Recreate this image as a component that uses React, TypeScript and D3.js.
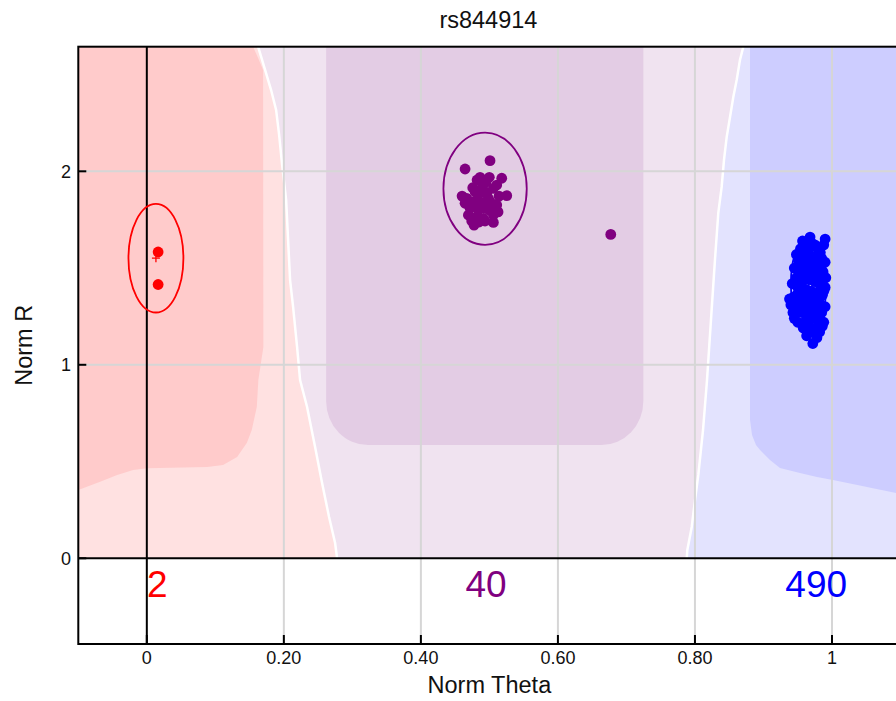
import React from "react";
import * as d3 from "d3";

type Pt = [number, number];

const W = 896;
const H = 701;
const R_MIN = -0.443;
const R_MAX = 2.644;
const T_MIN = -0.1;
const T_MAX = 1.1;

const title = "rs844914";
const xTicks = [0, 0.2, 0.4, 0.6, 0.8, 1];
const xTickLabels = ["0", "0.20", "0.40", "0.60", "0.80", "1"];
const yTicks = [0, 1, 2];

// AA / AB / BB calls
const clusterColors = ["#ff0000", "#800080", "#0000ff"];
const clusterCounts = [2, 40, 490];
const countLabelTheta = [0.0152, 0.495, 0.977];

// cluster centre + radii (theta, R, rTheta, rR)
const clusterCentres: Pt[] = [[0.0133, 1.551], [0.4937, 1.91], [0.966, 1.42]];
const clusterRadii: Pt[] = [[0.0401, 0.2806], [0.0608, 0.29], [0.026, 0.24]];

const redPoints: Pt[] = [[0.0165, 1.583], [0.0165, 1.415]];

const purplePoints: Pt[] = [
  [0.4645, 2.012], [0.5009, 2.055], [0.4864, 1.969], [0.4999, 1.969], [0.518, 1.964],
  [0.5253, 1.874], [0.4757, 1.915], [0.4912, 1.929], [0.5058, 1.912], [0.4961, 1.886],
  [0.4839, 1.878], [0.4669, 1.86], [0.4645, 1.835], [0.4766, 1.843], [0.4888, 1.835],
  [0.5009, 1.843], [0.5107, 1.826], [0.4718, 1.809], [0.4839, 1.8], [0.4936, 1.809],
  [0.4693, 1.774], [0.4815, 1.765], [0.4912, 1.757], [0.5058, 1.774], [0.4742, 1.743],
  [0.4936, 1.743], [0.5058, 1.736], [0.4999, 1.8], [0.4888, 1.912], [0.4791, 1.895],
  [0.5107, 1.929], [0.4985, 1.86], [0.5141, 1.872], [0.482, 1.955], [0.4951, 1.945],
  [0.4601, 1.872], [0.5126, 1.79], [0.4776, 1.722], [0.4849, 1.738], [0.6771, 1.674],
];

const bluePoints: Pt[] = [
  [0.968, 1.66], [0.99, 1.65], [0.961, 1.62], [0.951, 1.54], [0.948, 1.41], [0.94, 1.31],
  [0.945, 1.24], [0.965, 1.21], [0.968, 1.17], [0.972, 1.11], [0.988, 1.22], [0.991, 1.45],
  [0.985, 1.55], [0.975, 1.62], [0.958, 1.58], [0.966, 1.57], [0.975, 1.56], [0.98, 1.52],
  [0.957, 1.52], [0.963, 1.5], [0.97, 1.49], [0.978, 1.47], [0.952, 1.47], [0.96, 1.45],
  [0.968, 1.44], [0.975, 1.43], [0.983, 1.41], [0.955, 1.42], [0.962, 1.39], [0.97, 1.38],
  [0.978, 1.37], [0.986, 1.36], [0.95, 1.37], [0.958, 1.35], [0.966, 1.34], [0.974, 1.33],
  [0.982, 1.32], [0.953, 1.32], [0.961, 1.3], [0.969, 1.29], [0.977, 1.28], [0.985, 1.27],
  [0.956, 1.27], [0.964, 1.25], [0.972, 1.24], [0.98, 1.23], [0.96, 1.22], [0.975, 1.19],
  [0.965, 1.46], [0.972, 1.53], [0.98, 1.6], [0.959, 1.6], [0.948, 1.45], [0.944, 1.35],
  [0.946, 1.29], [0.99, 1.3], [0.988, 1.38], [0.987, 1.48], [0.983, 1.58], [0.97, 1.61],
  [0.962, 1.54], [0.955, 1.56], [0.95, 1.5], [0.943, 1.27], [0.963, 1.15], [0.978, 1.14],
  [0.954, 1.6], [0.988, 1.62], [0.957, 1.64], [0.945, 1.5], [0.942, 1.42], [0.938, 1.34],
  [0.95, 1.22], [0.958, 1.19], [0.982, 1.17], [0.986, 1.2], [0.99, 1.4], [0.99, 1.53],
  [0.948, 1.57], [0.953, 1.44], [0.957, 1.38], [0.967, 1.26], [0.979, 1.34], [0.984, 1.45],
];

// decision region borders, top to bottom
const leftBorder: Pt[] = [
  [0.1624, 2.644], [0.1726, 2.524], [0.1814, 2.42], [0.1887, 2.317], [0.1931, 2.188],
  [0.1975, 2.033], [0.2033, 1.852], [0.2091, 1.438], [0.2135, 1.299], [0.2193, 1.092],
  [0.2237, 0.921], [0.2339, 0.782], [0.2456, 0.575], [0.2558, 0.389], [0.266, 0.213],
  [0.2748, 0.079], [0.2777, 0],
];
const rightBorder: Pt[] = [
  [0.8706, 2.644], [0.8657, 2.575], [0.8609, 2.472], [0.856, 2.384], [0.8512, 2.281],
  [0.8463, 2.177], [0.8424, 2.059], [0.839, 1.919], [0.8341, 1.785], [0.8292, 1.542],
  [0.8234, 1.232], [0.8176, 0.921], [0.8118, 0.663], [0.8049, 0.431], [0.8001, 0.302],
  [0.7953, 0.162], [0.7889, 0.043], [0.788, 0],
];
const redCore: Pt[] = [
  [-0.1, 2.644], [0.1551, 2.644], [0.1624, 2.586], [0.1697, 2.524], [0.1701, 1.092],
  [0.1628, 0.921], [0.1605, 0.782], [0.1532, 0.663], [0.1459, 0.596], [0.1318, 0.524],
  [0.1113, 0.482], [0.088, 0.472], [0.0004, 0.465], [-0.02, 0.456], [-0.0433, 0.431],
  [-0.0681, 0.396], [-0.1, 0.353],
];
const purpleCore = { t0: 0.2617, t1: 0.7247, r0: 0.585 };
const blueCore: Pt[] = [
  [0.8804, 2.644], [0.8804, 0.715], [0.8833, 0.637], [0.8891, 0.586], [0.895, 0.56],
  [0.9095, 0.508], [0.9241, 0.467], [0.9533, 0.441], [0.9781, 0.42], [1.0015, 0.405],
  [1.0511, 0.368], [1.1, 0.332], [1.1, 2.644],
];

const FONT = "'Liberation Sans', Arial, Helvetica, sans-serif";

export default function App() {
  const left = 78.3;
  const right = 900.5;
  const top = 46.7;
  const bottom = 644;

  const x = d3.scaleLinear().domain([T_MIN, T_MAX]).range([left, right]);
  const y = d3.scaleLinear().domain([R_MIN, R_MAX]).range([bottom, top]);
  const line = d3.line<Pt>().x((d) => x(d[0])).y((d) => y(d[1]));
  const poly = (pts: Pt[]) => line(pts) + "Z";

  const lightRed: Pt[] = [[T_MIN, 0], [T_MIN, R_MAX], ...leftBorder];
  const lightPurple: Pt[] = [...leftBorder, ...[...rightBorder].reverse()];
  const lightBlue: Pt[] = [...rightBorder, [T_MAX, 0], [T_MAX, R_MAX]];

  const groups = [redPoints, purplePoints, bluePoints];

  return (
    <svg
      width={W}
      height={H}
      style={{ position: "absolute", left: 0, top: 0, display: "block", background: "#fff" }}
      fontFamily={FONT}
    >
      <defs>
        <clipPath id="plot">
          <rect x={left} y={top} width={right - left} height={bottom - top} />
        </clipPath>
      </defs>
      <rect width={W} height={H} fill="#fff" />

      <g clipPath="url(#plot)">
        <path d={poly(lightRed)} fill="#ffe1e1" />
        <path d={poly(lightPurple)} fill="#f0e3f0" />
        <path d={poly(lightBlue)} fill="#e3e3fe" />
        <path d={poly(redCore)} fill="#ffcbcb" />
        <rect
          x={x(purpleCore.t0)}
          y={top - 60}
          width={x(purpleCore.t1) - x(purpleCore.t0)}
          height={y(purpleCore.r0) - top + 60}
          rx={42}
          ry={44}
          fill="#e3cce4"
        />
        <path d={poly(blueCore)} fill="#cdcdff" />
        <path d={line(leftBorder) || ""} fill="none" stroke="#fff" strokeWidth={2.5} />
        <path d={line(rightBorder) || ""} fill="none" stroke="#fff" strokeWidth={2.5} />

        {xTicks.filter((t) => t !== 0).map((t) => (
          <line key={"gx" + t} x1={x(t)} x2={x(t)} y1={top} y2={bottom} stroke="#d6d6d6" strokeWidth={2} />
        ))}
        {yTicks.filter((t) => t !== 0).map((t) => (
          <line key={"gy" + t} x1={left} x2={right} y1={y(t)} y2={y(t)} stroke="#d6d6d6" strokeWidth={2} />
        ))}
        <line x1={x(0)} x2={x(0)} y1={top} y2={bottom} stroke="#000" strokeWidth={2} />
        <line x1={left} x2={right} y1={y(0)} y2={y(0)} stroke="#000" strokeWidth={2} />

        {clusterCentres.map((c, i) => (
          <ellipse
            key={"ell" + i}
            cx={x(c[0])}
            cy={y(c[1])}
            rx={x(c[0] + clusterRadii[i][0]) - x(c[0])}
            ry={y(c[1]) - y(c[1] + clusterRadii[i][1])}
            stroke={clusterColors[i]}
            fill="none"
            strokeWidth={1.8}
          />
        ))}

        {groups.map((pts, gi) => (
          <g key={"pts" + gi} fill={clusterColors[gi]}>
            {pts.map((p, i) => (
              <circle key={i} cx={x(p[0])} cy={y(p[1])} r={5.4} />
            ))}
          </g>
        ))}

        {clusterCentres.map((c, i) => (
          <path
            key={"ctr" + i}
            d={`M${x(c[0]) - 4},${y(c[1])}h8M${x(c[0])},${y(c[1]) - 4}v8`}
            stroke={clusterColors[i]}
            strokeWidth={1.3}
          />
        ))}

        {clusterCounts.map((n, i) => (
          <text
            key={"cnt" + i}
            x={x(countLabelTheta[i])}
            y={y(-0.198)}
            textAnchor="middle"
            fontSize={37}
            fill={clusterColors[i]}
          >
            {n}
          </text>
        ))}
      </g>

      <rect x={left} y={top} width={right - left} height={bottom - top} fill="none" stroke="#000" strokeWidth={2} />

      {xTicks.map((t, i) => (
        <g key={"xt" + t}>
          <line x1={x(t)} x2={x(t)} y1={bottom} y2={bottom - 9} stroke="#000" strokeWidth={2} />
          <text x={x(t)} y={664} textAnchor="middle" fontSize={18} fill="#111">
            {xTickLabels[i]}
          </text>
        </g>
      ))}
      {yTicks.map((t) => (
        <g key={"yt" + t}>
          <line x1={left} x2={left + 8} y1={y(t)} y2={y(t)} stroke="#000" strokeWidth={2} />
          <text x={71} y={y(t)} dy="0.36em" textAnchor="end" fontSize={18} fill="#111">
            {t}
          </text>
        </g>
      ))}

      <text x={(left + right) / 2 - 1} y={28} textAnchor="middle" fontSize={23.5} fill="#111">
        {title}
      </text>
      <text x={(left + right) / 2} y={693} textAnchor="middle" fontSize={23.5} fill="#111">
        Norm Theta
      </text>
      <text
        transform={`translate(31.5,${(top + bottom) / 2}) rotate(-90)`}
        textAnchor="middle"
        fontSize={23.5}
        fill="#111"
      >
        Norm R
      </text>
    </svg>
  );
}
